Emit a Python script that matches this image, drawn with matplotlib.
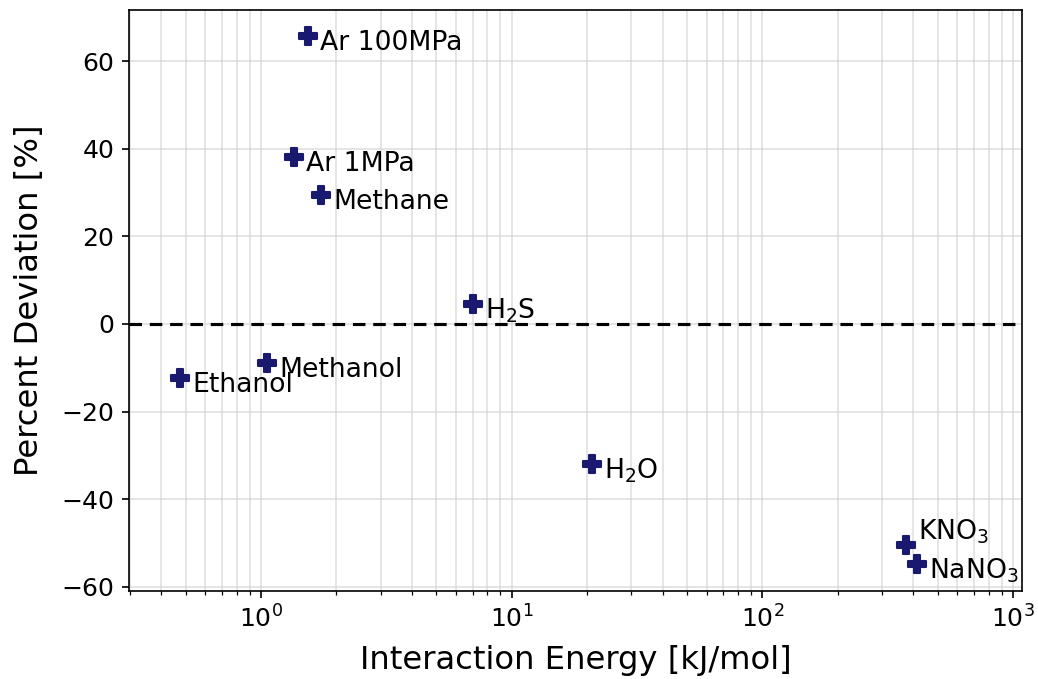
import numpy as np
import matplotlib.pyplot as plt

# Interaction energy vs percent deviation for each system
names = ['Ar 100MPa', 'Ar 1MPa', 'Methane', 'H$_2$S', 'Methanol', 'Ethanol',
         'H$_2$O', 'KNO$_3$', 'NaNO$_3$']
energy = [1.54, 1.35, 1.74, 7.0, 1.06, 0.475, 20.9, 374, 414]
deviation = [65.7, 38.1, 29.4, 4.6, -8.9, -12.3, -31.9, -50.4, -54.8]
# vertical nudge of each label (KNO3 sits above its marker)
label_dy = [-1.6, -1.6, -1.6, -1.6, -1.6, -1.6, -1.6, 3.0, -1.6]

fig = plt.figure(figsize=(6.926, 4.527), dpi=150)
ax = fig.add_axes([0.124, 0.130, 0.8596, 0.855])

ax.scatter(energy, deviation, marker='P', s=75, color='midnightblue', zorder=3)
for name, x, y, dy in zip(names, energy, deviation, label_dy):
    ax.text(x * 1.12, y + dy, name, va='center', ha='left', fontsize=12.8)

ax.axhline(0, color='black', linestyle='--', linewidth=1.5, dashes=(4, 2.5))

ax.set_xscale('log')
ax.set_xlim(0.297, 1085)
ax.set_ylim(-60.9, 71.6)
ax.set_yticks([-60, -40, -20, 0, 20, 40, 60])
ax.grid(True, which='both', color='lightgray', alpha=0.7, linewidth=0.8)
ax.tick_params(labelsize=12)
ax.set_xlabel('Interaction Energy [kJ/mol]', fontsize=15.5, labelpad=6)
ax.set_ylabel('Percent Deviation [%]', fontsize=15.5, labelpad=8)

plt.savefig('out.png')
